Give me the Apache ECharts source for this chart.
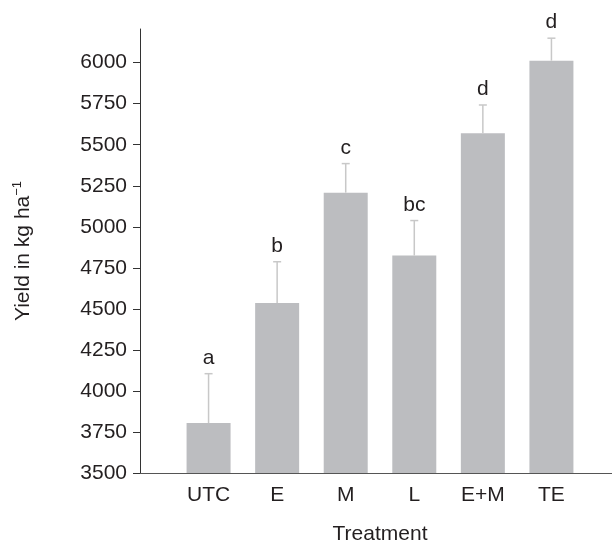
<!DOCTYPE html>
<html>
<head>
<meta charset="utf-8">
<script src="https://cdn.jsdelivr.net/npm/echarts@6/dist/echarts.min.js"></script>
<style>
html,body{margin:0;padding:0;background:#fff;}
#chart{width:612px;height:543px;}
</style>
</head>
<body>
<div id="chart"></div>
<script>
var categories = ['UTC', 'E', 'M', 'L', 'E+M', 'TE'];
var yields = [3804, 4535, 5208, 4825, 5570, 6012];
var errors = [301, 252, 177, 213, 172, 137];
var letters = ['a', 'b', 'c', 'bc', 'd', 'd'];
var yTicks = [3500, 3750, 4000, 4250, 4500, 4750, 5000, 5250, 5500, 5750, 6000];

var FONT = 'Liberation Sans, Arial, Helvetica, sans-serif';
var TEXT = '#231f20';
var FS = 21;

var axisCats = [''].concat(categories).concat(['']);
var barData = categories.map(function (c, i) { return [c, yields[i]]; });
var errData = categories.map(function (c, i) { return [c, yields[i], yields[i] + errors[i]]; });

var chart = echarts.init(document.getElementById('chart'), null, {renderer: 'canvas'});
chart.setOption({
  backgroundColor: '#ffffff',
  animation: false,
  grid: {left: 140, right: -8, top: 29, bottom: 70, containLabel: false, outerBoundsMode: 'none'},
  xAxis: {
    type: 'category',
    data: axisCats,
    boundaryGap: false,
    axisLine: {show: true, lineStyle: {color: '#555', width: 1}},
    axisTick: {show: false},
    axisLabel: {color: TEXT, fontSize: FS, fontFamily: FONT, margin: 12, interval: 0},
    splitLine: {show: false},
    name: 'Treatment',
    nameLocation: 'middle',
    nameGap: 51,
    nameTextStyle: {color: TEXT, fontSize: FS, fontFamily: FONT}
  },
  yAxis: {
    type: 'value',
    min: 3500,
    max: 6205,
    axisLine: {show: true, lineStyle: {color: '#333', width: 1}},
    axisTick: {show: true, length: 7, lineStyle: {color: '#333'}, customValues: yTicks},
    axisLabel: {
      color: TEXT, fontSize: FS, fontFamily: FONT, margin: 13, customValues: yTicks,
      formatter: function (v) { return String(v); }
    },
    splitLine: {show: false},
    name: '{a|Yield in kg ha}{s|−1}',
    nameLocation: 'middle',
    nameGap: 105,
    nameTextStyle: {
      color: TEXT, fontFamily: FONT,
      rich: {
        a: {fontSize: FS, fontFamily: FONT, color: TEXT, lineHeight: 24},
        s: {fontSize: 13, fontFamily: FONT, color: TEXT, verticalAlign: 'top', lineHeight: 24}
      }
    }
  },
  series: [
    {
      type: 'bar',
      data: barData,
      barWidth: 44,
      itemStyle: {color: '#bcbdc0'},
      z: 2
    },
    {
      type: 'custom',
      data: errData,
      z: 3,
      renderItem: function (params, api) {
        var x = api.value(0);
        var top = api.coord([x, api.value(1)]);
        var hi = api.coord([x, api.value(2)]);
        var capW = 4;
        var style = {stroke: '#c8c8c8', lineWidth: 1.5};
        return {
          type: 'group',
          children: [
            {type: 'line', shape: {x1: top[0], y1: top[1], x2: hi[0], y2: hi[1]}, style: style},
            {type: 'line', shape: {x1: hi[0] - capW, y1: hi[1], x2: hi[0] + capW, y2: hi[1]}, style: style},
            {type: 'text', style: {
              x: hi[0], y: hi[1] - 5,
              text: letters[params.dataIndex],
              fill: TEXT, fontSize: FS, fontFamily: FONT,
              align: 'center', verticalAlign: 'bottom'
            }}
          ]
        };
      }
    }
  ]
});
</script>
</body>
</html>
